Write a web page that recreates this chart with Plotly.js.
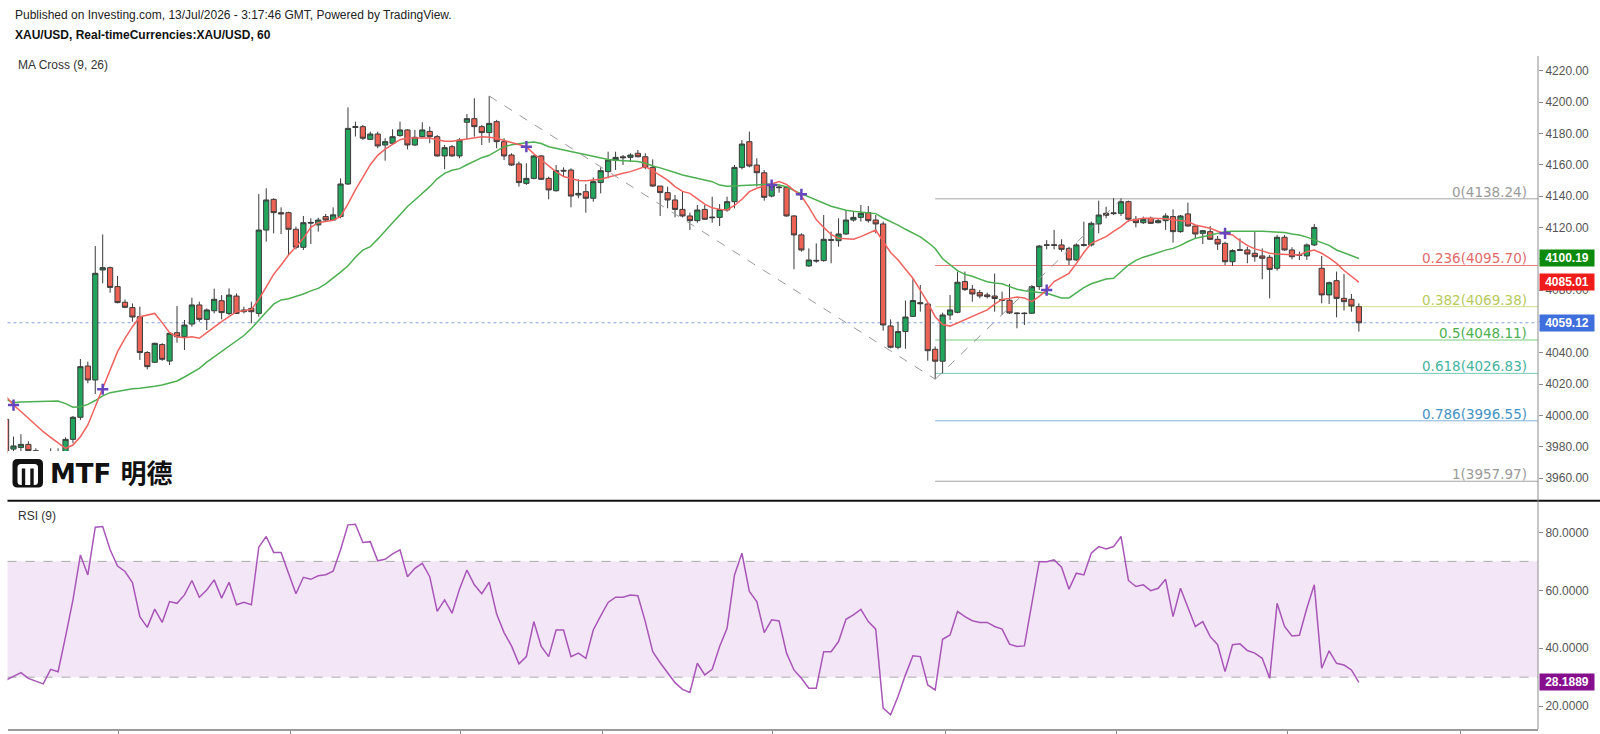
<!DOCTYPE html>
<html><head><meta charset="utf-8">
<script src="https://cdn.plot.ly/plotly-3.0.1.min.js"></script>
<style>html,body{margin:0;padding:0;background:#fff;overflow:hidden}#chart{width:1600px;height:734px}</style>
</head><body><div id="chart"></div>
<script>
// ---- data (bar index -1 .. 181, hourly XAU/USD) ----
const openP=[3997.5,3978.5,3979.5,3981.5,3977.5,3975.5,3973,3976.5,3975.5,3984.7,
3998.8,4031.5,4022.6,4092.8,4094.3,4082.2,4072.2,4068.8,4063,4040.1,
4033.9,4045.2,4034.7,4052.8,4050.2,4058.3,4070.5,4061.3,4066.8,4073.2,
4065.1,4076.2,4066.2,4068.3,4065.1,4118.3,4137.9,4129.4,4129.4,4118.8,
4107.3,4123.2,4121.6,4126.9,4124.7,4126.9,4147.7,4183.8,4184.3,4176.2,
4179.6,4172.6,4173.7,4178.6,4182.2,4172.6,4177.9,4181.3,4177.9,4165.6,
4171.5,4165.6,4187.1,4189.4,4184.3,4180.5,4187.5,4174.7,4166.2,4160.5,
4148.1,4151.3,4165.6,4151.3,4143.4,4156.4,4156.6,4140.7,4142.8,4138.6,
4148.6,4155.6,4163,4165.1,4164.7,4167.3,4165.1,4158.3,4146.4,4142.2,
4137.5,4131.5,4127.3,4124.3,4131.5,4126.6,4126.4,4131.1,4136.4,4158.3,
4174.7,4159.8,4154.9,4140,4145.8,4145.6,4127.3,4115.2,4095.4,4099,
4098.8,4112.2,4111.5,4115.8,4124.7,4126.4,4129.4,4124.7,4122.2,4057.1,
4043.5,4053.5,4063.2,4072,4071.1,4042.2,4034.6,4064.1,4065.8,4085.4,
4080.5,4078.4,4076.9,4076.2,4073.9,4073.5,4065.4,4065.3,4065.2,4082.2,
4108.9,4108.9,4108.8,4106.6,4099.2,4109,4108.8,4122.2,4129,4128.8,
4129,4136.4,4125.2,4123,4125.8,4123,4124.3,4126.9,4117.3,4128.6,
4120.9,4116.2,4117.3,4112.4,4109.8,4098.1,4105.8,4105.6,4103.5,4101.8,
4100.9,4093.9,4113.7,4105.6,4102.6,4101.8,4108.8,4093.9,4076.9,4086,
4074.7,4074.1,4069.4];
const highP=[3999,3986.5,3988,3983.5,3979,3977,3979,3979,3986,3999.6,
4036,4034.3,4108.1,4115.5,4095,4089,4074,4071.5,4069.4,4041,
4046.4,4046.1,4053,4069.8,4060.9,4075.1,4072.6,4068.3,4080.9,4076.8,
4081.1,4077.9,4069.4,4072.6,4141.3,4145,4138.6,4132.8,4130,4120.5,
4127.3,4125.8,4126.2,4128.6,4132.8,4151.3,4196.6,4187.5,4185.4,4181.1,
4181.1,4176.9,4182.6,4187.5,4182.6,4182.2,4187.1,4184.3,4179,4172.6,
4172.6,4176.9,4192.4,4202.4,4185.4,4203.9,4188.6,4176.9,4167.3,4162,
4160.9,4166.2,4166.2,4152.4,4159.8,4158.3,4157.7,4150.7,4147.7,4151.9,
4158.3,4168.3,4168.3,4166.2,4167.3,4169.4,4167.3,4163.4,4146.4,4146,
4140.7,4142.8,4129.4,4134.3,4134.3,4139.6,4134.9,4139.6,4159.8,4175.8,
4181.1,4164.1,4156.6,4148.1,4147.1,4146.4,4127.9,4116.2,4106.6,4109.8,
4127.9,4117.3,4125.8,4131.1,4130,4134.3,4133.6,4127.9,4123.7,4061.3,
4059.8,4073.3,4086.9,4083.2,4072.6,4044,4065.6,4076.9,4091.8,4091.8,
4083.2,4080.1,4078.4,4090.5,4079,4083.9,4065.8,4065.8,4083.2,4108.8,
4111.9,4118.4,4112.4,4107.7,4109.8,4123.7,4123.7,4137.1,4133.2,4138.6,
4138.6,4137.1,4127.3,4126.9,4126.9,4125.8,4129,4131.5,4127.9,4135.8,
4121.5,4118.4,4120.9,4114.5,4110.9,4106,4113,4107.7,4117.3,4106.6,
4102.4,4115.2,4115.2,4107.3,4104.5,4109.8,4122.2,4101.8,4085.4,4091.8,
4090.3,4077.5,4071.5];
const lowP=[3974,3975.5,3976,3974.5,3972,3970,3971,3972,3973,3982.2,
3997,4020.5,4013.7,4084.3,4078.3,4071.5,4068.4,4059.8,4035.4,4029.4,
4033.6,4034.9,4032.2,4046.4,4041.7,4056.6,4059.8,4054.5,4065.1,4061.3,
4063.9,4064.7,4065.1,4058.8,4063,4110.9,4116.2,4115.8,4101.8,4106,
4105.6,4109.4,4117.3,4123.7,4124.3,4125.8,4147.1,4178,4175.8,4175.8,
4170.5,4162.6,4172.6,4177.9,4169.8,4172,4177.5,4173.7,4165.1,4157.1,
4165.1,4164.1,4176.2,4177.9,4172.6,4174.1,4170.5,4163,4159.2,4146,
4147.1,4150.7,4150.2,4137.9,4142.8,4152.4,4132.8,4138.6,4129.4,4136.4,
4141.7,4151.3,4156.6,4159.8,4161.9,4164.7,4157.1,4146,4127.3,4132.2,
4126.4,4126.4,4118.3,4123,4124.7,4123,4120.9,4130,4132.2,4157.1,
4158.3,4146,4137.1,4139.2,4142.2,4126.9,4093.3,4104.5,4094.9,4097.5,
4098.1,4097.1,4107.7,4115.2,4123.7,4123.7,4123,4116.2,4054.1,4042.8,
4042.2,4042.5,4063,4066.2,4034.9,4023.1,4026.9,4060.9,4065.2,4079.4,
4072.6,4074.7,4074.7,4066.2,4064.1,4064.7,4055.6,4057.7,4064.7,4080.1,
4106,4106,4104.5,4096,4098.8,4107.7,4107.7,4116.2,4125.8,4127.9,
4127.3,4123.7,4120,4122.2,4122.2,4122.6,4118.4,4110.3,4116.6,4120.5,
4113,4109.4,4112,4105.6,4096,4095.4,4105.2,4097.1,4098.1,4086.9,
4074.7,4092.4,4105.2,4099.6,4099.2,4099.2,4108.1,4071.5,4071.1,4062.6,
4066.9,4066.2,4053.5];
const closeP=[3976,3980.5,3981.5,3977.5,3975.5,3973,3976.5,3975.5,3984.7,3998.8,
4031.1,4022.6,4090.7,4094.3,4081.7,4072,4069,4062.8,4040.1,4031.1,
4046,4035.8,4052.4,4050.2,4057.7,4070.5,4061.3,4067.3,4074.1,4065.6,
4076.8,4065.1,4067.3,4066.2,4118.3,4137.5,4129.4,4128.6,4118.8,4107.3,
4123,4122.8,4124.7,4124.7,4128,4147.7,4183.2,4184.3,4176.9,4179.6,
4172,4174.7,4177.9,4182.2,4172.6,4177.5,4182.2,4177.9,4165.6,4170.9,
4165.6,4175.8,4189.4,4184.3,4180.5,4186.4,4174.7,4165.6,4159.8,4148.6,
4151.3,4165.6,4150.7,4143.9,4156.2,4156,4140,4141.7,4138.6,4149.2,
4156.2,4163,4164.7,4164.5,4166.2,4165.1,4158.3,4146.4,4142.2,4137.5,
4131.5,4127.3,4124.3,4131.1,4125.2,4126.2,4131.5,4136.4,4158.3,4173.2,
4159.2,4154.9,4139.2,4146.4,4145.4,4127.3,4115.2,4105.6,4099.2,4098.6,
4112.4,4111.8,4115.8,4124.7,4126.4,4129,4124.3,4122.2,4057.7,4043.5,
4053.5,4062.8,4073.3,4071.3,4041.3,4034.6,4064.1,4067.3,4085,4080.3,
4077.5,4076.2,4075.8,4074.6,4073.5,4065.4,4065,4065,4082.2,4108.1,
4108.6,4108.6,4106,4099.2,4108.8,4108.6,4122.6,4127.9,4127.7,4129.2,
4136.4,4125.2,4123,4125.2,4122.6,4124.3,4127.3,4117.3,4127.3,4120.9,
4115.8,4117.9,4112.4,4109.4,4098.1,4105.2,4105.4,4103,4101.3,4100.3,
4093.2,4113.7,4105.6,4101.3,4102.2,4108.8,4120,4076.9,4084.7,4074.7,
4072.6,4069.8,4059.12];
const ma9=[4012,4006.6,4002.5,3998.1,3994,3989.6,3986,3982.2,3979,3981.1,
3986.4,3993.9,4005.6,4016.6,4029,4040.7,4049.2,4056.6,4063,4064.1,
4065.1,4059.2,4052.8,4050.2,4049.6,4050.2,4049.2,4052.8,4056.6,4059.8,
4063,4066.2,4066.8,4067.7,4074,4082,4090,4096,4102.4,4107.7,
4113,4120,4123,4123.7,4124.5,4127,4135,4144,4152.4,4160,
4166,4170,4173,4176,4177,4177,4177,4177,4176,4175,
4175,4175.8,4176.5,4177,4177.9,4177.5,4176.9,4175.5,4174,4173,
4171.5,4167,4163,4159,4155.5,4152.5,4151,4150,4149.8,4150.3,
4150.7,4152,4153.4,4154.5,4155.6,4157,4158.8,4156.2,4153,4150.2,
4146,4143,4141.7,4138,4134.9,4132.5,4131.5,4131.1,4134,4138,
4142.8,4145,4146.4,4148,4149.2,4147.5,4144,4140,4133,4125,
4120,4115.5,4113,4112.5,4112.4,4114.1,4116,4118.3,4111,4104,
4099.2,4093,4087.5,4080,4072,4063,4058,4057,4059,4061,
4063,4065,4067.3,4071,4074,4074.7,4075.5,4075,4072.6,4076,
4080,4085.4,4088,4090.7,4097,4104,4109.8,4112,4114.1,4117.5,
4120.5,4124.3,4125,4125.8,4125.8,4125.8,4125.5,4124.9,4124.5,4123.7,
4121.5,4120.4,4119.4,4117.5,4116,4115.2,4111.5,4108.5,4106.3,4105,
4103.5,4103,4103,4102.6,4102.4,4104.5,4105.5,4103.5,4100.5,4097,
4092.5,4089,4085.01];
const ma26=[4010,4008.3,4008.5,4008.7,4008.8,4009,4009.1,4009.2,4007.5,4005.2,
4005.5,4007,4009.5,4012.5,4014.5,4015.5,4016.3,4017,4017.3,4017.8,
4018.6,4019.4,4020.8,4022,4024.5,4027,4030,4034,4037.5,4041,
4044.5,4048,4051,4055.5,4061,4066,4071,4073.7,4074.5,4075.8,
4077.5,4079.5,4081.1,4084,4087.5,4091.5,4095.5,4101,4105.5,4107.7,
4112.5,4118,4123,4128,4133.3,4137.5,4141.8,4146,4151,4154.5,
4156.5,4157.5,4160,4162.5,4164.5,4166,4169,4171.5,4172.7,4173.5,
4174,4174.5,4173.5,4171.5,4170.5,4169.5,4168.3,4167.3,4166.2,4165.1,
4164.3,4163.3,4162.8,4162.5,4162.2,4162,4161,4159.2,4158,4156.3,
4155,4153.5,4152.3,4151.3,4150.3,4149.2,4147,4146.2,4146.4,4146.5,
4146.7,4147,4147.3,4147.7,4147,4146,4143.5,4141.5,4139,4137,
4135,4133.5,4132.2,4131,4130.3,4129.8,4129.3,4128.8,4126,4124,
4121.5,4118.8,4116.6,4114,4110.5,4106.5,4100,4096,4092.4,4090,
4088.8,4087,4085.3,4084.5,4084,4082.2,4080.5,4079.5,4078.8,4078.5,
4078,4076.5,4075,4075,4078.5,4081.5,4084,4085.5,4087,4087.5,
4092,4096,4099,4101,4102.4,4104,4105.5,4106.6,4108.5,4111,
4113,4114,4115.2,4116.2,4117.3,4117.6,4117.7,4117.7,4117.6,4117.5,
4117.4,4117.3,4116.8,4115.8,4115.2,4113.8,4112,4110.5,4108.5,4105.6,
4103.8,4102,4100.19];
const rsi9=[29.0,30.2,31.6,29.6,28.7,27.7,32.7,31.9,44.0,56.7,
72.2,65.3,81.8,82.0,74.0,68.4,66.5,62.7,50.9,47.2,
53.5,48.9,56.1,55.5,58.4,63.4,57.6,60.1,63.6,57.3,
62.8,55.0,55.9,55.0,74.9,78.6,73.1,73.1,65.9,58.8,
64.5,63.8,65.0,65.4,66.6,74.0,82.6,82.8,76.5,76.8,
70.2,70.7,72.6,74.0,64.7,67.6,69.3,64.7,52.7,56.7,
52.1,60.4,67.0,61.9,58.8,62.8,51.8,45.4,40.8,34.6,
37.1,49.2,40.6,37.1,46.3,46.3,37.1,38.3,36.5,46.3,
51.2,55.8,57.6,57.6,58.4,58.1,49.2,38.8,35.0,31.6,
28.1,25.8,24.7,34.8,30.8,32.7,40.6,46.9,65.3,72.8,
59.6,56.1,45.4,49.8,49.4,38.3,32.5,29.6,26.2,26.2,
38.8,38.8,42.3,50.0,51.5,53.4,49.2,46.6,19.3,17.0,
23.3,30.8,37.4,37.1,27.3,25.6,43.1,44.6,52.7,50.9,
49.5,48.9,48.9,47.5,46.6,41.4,40.6,40.8,55.5,69.9,
69.9,70.5,68.0,60.4,65.9,65.3,72.8,75.1,74.3,75.1,
78.6,63.4,61.3,61.9,59.9,60.7,63.8,50.9,60.7,53.8,
47.5,49.2,44.0,41.2,31.9,41.2,41.5,39.2,38.3,36.5,
29.6,55.5,47.5,44.2,44.5,53.8,61.9,33.1,39.1,34.8,
34.2,32.5,28.1889];
const crossX=[0,12,69,102,106,139,163];
const crossY=[4006.6,4016.7,4171.5,4147,4141.1,4080,4116.2];
const fibRatio=['0','0.236','0.382','0.5','0.618','0.786','1'];
const fibLevel=[4138.24,4095.70,4069.38,4048.11,4026.83,3996.55,3957.97];
const trendX=[64,124,149.1];
const trendY=[4203.85,4023.1,4138.24];
const priceTicks=[3960,3980,4000,4020,4040,4060,4080,4100,4120,4140,4160,4180,4200,4220];
const rsiTicks=[20,40,60,80];
const dayTicks=[14.06,37.2,60.07,79.2,102.1,125.4,148.4,171.4,194.7];
const lastPrice=4059.12, ma26Last=4100.19, ma9Last=4085.01, rsiLast=28.1889;

// ---- layout helpers (pixel -> paper) ----
const PW=1538, PH=734;
const px=v=>v/PW, py=v=>1-v/PH;
const bars=closeP.map((_,i)=>i-1);
const XR=[-0.807,205.1];
function rr(x0,y0,x1,y1,r){
  return `M${px(x0+r)},${py(y0)} L${px(x1-r)},${py(y0)} Q${px(x1)},${py(y0)} ${px(x1)},${py(y0+r)} L${px(x1)},${py(y1-r)} Q${px(x1)},${py(y1)} ${px(x1-r)},${py(y1)} L${px(x0+r)},${py(y1)} Q${px(x0)},${py(y1)} ${px(x0)},${py(y1-r)} L${px(x0)},${py(y0+r)} Q${px(x0)},${py(y0)} ${px(x0+r)},${py(y0)} Z`;
}
const fibLine=['#a3a3a3','#e77a7a','#cfdf86','#7fcb80','#77cbb9','#7fb2da','#a3a3a3'];
const fibText=['#9a9a9a','#e06a6a','#b8ca5c','#4cb050','#45b39f','#4592c4','#9a9a9a'];

const traces=[
 {type:'candlestick',x:bars,open:openP,high:highP,low:lowP,close:closeP,xaxis:'x',yaxis:'y',
  increasing:{line:{color:'#3b3b3b',width:1},fillcolor:'#22a55c'},
  decreasing:{line:{color:'#3b3b3b',width:1},fillcolor:'#ec6255'},
  whiskerwidth:0,hoverinfo:'skip',showlegend:false},
 {type:'scatter',mode:'lines',x:bars,y:ma26,line:{color:'#4caf50',width:1.5},xaxis:'x',yaxis:'y',hoverinfo:'skip'},
 {type:'scatter',mode:'lines',x:bars,y:ma9,line:{color:'#f0625d',width:1.5},xaxis:'x',yaxis:'y',hoverinfo:'skip'},
 {type:'scatter',mode:'markers',x:crossX,y:crossY,marker:{symbol:'cross-thin',size:8,line:{width:2.5,color:'#6747bd'}},xaxis:'x',yaxis:'y',hoverinfo:'skip'},
 {type:'scatter',mode:'lines',x:bars,y:rsi9,line:{color:'#a856b8',width:1.5},xaxis:'x',yaxis:'y2',hoverinfo:'skip'}
];

const shapes=[
 {type:'rect',xref:'paper',yref:'y2',x0:px(7.5),x1:1,y0:30,y1:70,fillcolor:'#f3e6f6',line:{width:0},layer:'below'},
 {type:'line',xref:'paper',yref:'y2',x0:px(7.5),x1:1,y0:70,y1:70,line:{color:'#aaaaaa',width:1,dash:'dash'},layer:'below'},
 {type:'line',xref:'paper',yref:'y2',x0:px(7.5),x1:1,y0:30,y1:30,line:{color:'#aaaaaa',width:1,dash:'dash'},layer:'below'},
 {type:'line',xref:'paper',yref:'y',x0:px(7.5),x1:1,y0:lastPrice,y1:lastPrice,line:{color:'#7f9de0',width:1,dash:'dot'},layer:'below'},
 {type:'line',xref:'x',yref:'y',x0:trendX[0],y0:trendY[0],x1:trendX[1],y1:trendY[1],line:{color:'#9a9a9a',width:1,dash:'dash'}},
 {type:'line',xref:'x',yref:'y',x0:trendX[1],y0:trendY[1],x1:trendX[2],y1:trendY[2],line:{color:'#9a9a9a',width:1,dash:'dash'}}
];
fibLevel.forEach((v,i)=>shapes.push({type:'line',xref:'x',yref:'y',x0:trendX[1],x1:XR[1],y0:v,y1:v,line:{color:fibLine[i],width:1},layer:'below'}));
// pane separator and price-scale line
shapes.push({type:'line',xref:'paper',yref:'paper',x0:px(7.5),x1:1600/PW,y0:py(500.7),y1:py(500.7),line:{color:'#111',width:2}});
shapes.push({type:'line',xref:'paper',yref:'paper',x0:1,x1:1,y0:py(729),y1:py(56),line:{color:'#8c8c8c',width:1}});
// watermark logo
shapes.push({type:'rect',xref:'paper',yref:'paper',x0:px(7.5),x1:px(182),y0:py(451),y1:py(498),fillcolor:'#fff',line:{width:0},layer:'above'});
shapes.push({type:'path',xref:'paper',yref:'paper',path:rr(12.5,459,43,487.5,5),fillcolor:'#111',line:{width:0}});
shapes.push({type:'path',xref:'paper',yref:'paper',path:rr(17.5,464,38,485,3.5),fillcolor:'#fff',line:{width:0}});
shapes.push({type:'rect',xref:'paper',yref:'paper',x0:px(21.8),x1:px(25.2),y0:py(485.5),y1:py(468.5),fillcolor:'#111',line:{width:0}});
shapes.push({type:'rect',xref:'paper',yref:'paper',x0:px(30.3),x1:px(33.7),y0:py(485.5),y1:py(468.5),fillcolor:'#111',line:{width:0}});

const F='Liberation Sans, Arial, sans-serif';
const ann=[
 {xref:'paper',yref:'paper',x:px(13),y:py(15),xanchor:'left',yanchor:'middle',showarrow:false,text:'Published on Investing.com, 13/Jul/2026 - 3:17:46 GMT, Powered by TradingView.',font:{size:12,color:'#222',family:F}},
 {xref:'paper',yref:'paper',x:px(13),y:py(35),xanchor:'left',yanchor:'middle',showarrow:false,text:'<b>XAU/USD, Real-timeCurrencies:XAU/USD, 60</b>',font:{size:12,color:'#111',family:F}},
 {xref:'paper',yref:'paper',x:px(16),y:py(65),xanchor:'left',yanchor:'middle',showarrow:false,text:'MA Cross (9, 26)',font:{size:12,color:'#333',family:F}},
 {xref:'paper',yref:'paper',x:px(16),y:py(516),xanchor:'left',yanchor:'middle',showarrow:false,text:'RSI (9)',font:{size:12,color:'#333',family:F}},
 {xref:'paper',yref:'paper',x:px(48),y:py(474),xanchor:'left',yanchor:'middle',showarrow:false,text:'<b>MTF 明德</b>',font:{size:26,color:'#111',family:'DejaVu Sans, Noto Sans CJK SC, sans-serif'}}
];
fibLevel.forEach((v,i)=>ann.push({xref:'x',yref:'y',x:203.75,y:v,xanchor:'right',yanchor:'bottom',yshift:-2,borderpad:0,showarrow:false,
  text:fibRatio[i]+'('+v.toFixed(2)+')',font:{size:13.5,color:fibText[i],family:'DejaVu Sans, sans-serif'}}));
function box(val,yref,txt,bg){return {xref:'paper',yref:yref,x:1,xshift:0.5,y:val,xanchor:'left',yanchor:'middle',showarrow:false,
  text:'<b>'+txt+'</b>',bgcolor:bg,width:54,height:16,borderpad:0,align:'center',font:{size:12,color:'#fff',family:F}};}
ann.push(box(ma26Last,'y',ma26Last.toFixed(2),'#0b8a0b'));
ann.push(box(ma9Last,'y',ma9Last.toFixed(2),'#f01c1c'));
ann.push(box(lastPrice,'y',lastPrice.toFixed(2),'#3f6fdc'));
ann.push(box(rsiLast,'y2',rsiLast.toFixed(4),'#870f8e'));

const layout={
 width:1600,height:734,margin:{l:0,r:62,t:0,b:0},
 paper_bgcolor:'#ffffff',plot_bgcolor:'rgba(0,0,0,0)',showlegend:false,
 font:{family:F},boxgap:0.3,boxgroupgap:0,hovermode:false,
 xaxis:{domain:[px(7.5),1],range:XR,anchor:'y2',showgrid:false,zeroline:false,showline:true,linecolor:'#9a9a9a',linewidth:1.5,
   ticks:'outside',ticklen:6,tickcolor:'#8a8a8a',tickvals:dayTicks,showticklabels:false,rangeslider:{visible:false},fixedrange:true},
 yaxis:{domain:[py(500),py(56)],range:[3946.0,4229.4],side:'right',anchor:'x',showgrid:false,zeroline:false,showline:false,
   ticks:'outside',ticklen:4,tickcolor:'#8a8a8a',tickvals:priceTicks,ticktext:priceTicks.map(v=>v.toFixed(2)),
   tickfont:{size:12,color:'#555',family:F},fixedrange:true},
 yaxis2:{domain:[py(729),py(502)],range:[12.1,90.5],side:'right',anchor:'x',showgrid:false,zeroline:false,showline:false,
   ticks:'outside',ticklen:4,tickcolor:'#8a8a8a',tickvals:rsiTicks,ticktext:rsiTicks.map(v=>v.toFixed(4)),
   tickfont:{size:12,color:'#555',family:F},fixedrange:true},
 shapes:shapes,annotations:ann
};
Plotly.newPlot('chart',traces,layout,{staticPlot:true,displayModeBar:false});
</script></body></html>
